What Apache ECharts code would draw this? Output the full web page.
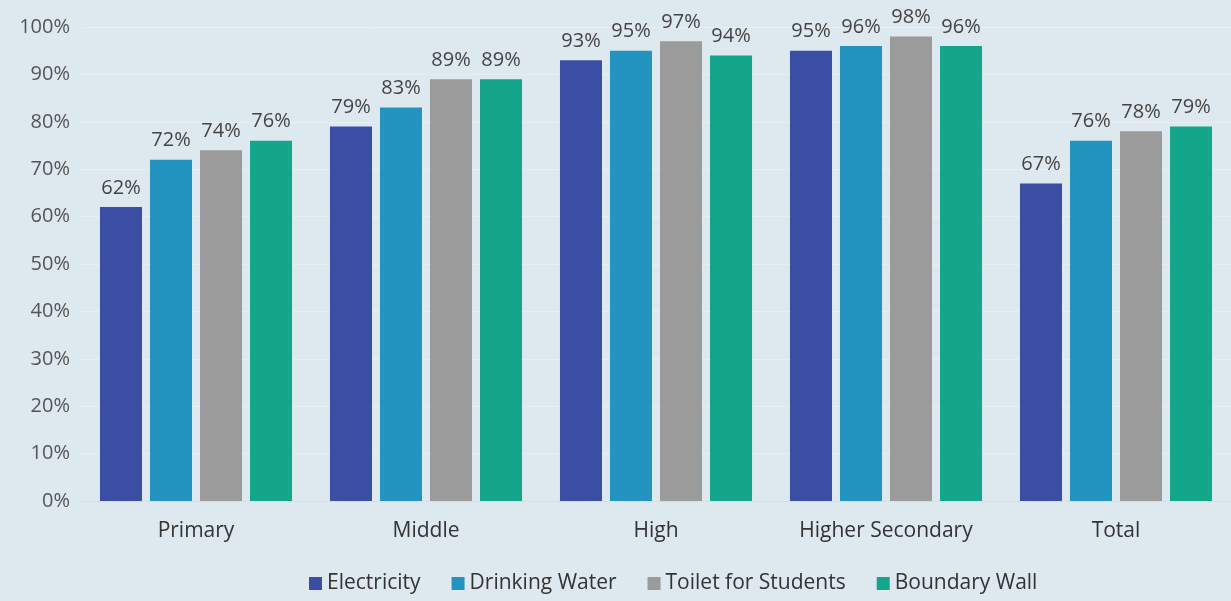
<!DOCTYPE html>
<html><head><meta charset="utf-8">
<script src="https://cdn.jsdelivr.net/npm/echarts@6/dist/echarts.min.js"></script>
<style>html,body{margin:0;padding:0;background:#dde9ef;}#c{width:1231px;height:601px;}</style>
</head><body><div id="c"></div>
<script>
const categories = ['Primary', 'Middle', 'High', 'Higher Secondary', 'Total'];
const electricity = [62, 79, 93, 95, 67];
const drinkingWater = [72, 83, 95, 96, 76];
const toilet = [74, 89, 97, 98, 78];
const boundaryWall = [76, 89, 94, 96, 79];
const seriesNames = ['Electricity', 'Drinking Water', 'Toilet for Students', 'Boundary Wall'];
const colors = ['#3a4fa3', '#2393bf', '#9b9b9b', '#14a68a'];
const yTicks = [0, 10, 20, 30, 40, 50, 60, 70, 80, 90, 100];

const chart = echarts.init(document.getElementById('c'));
const font = '"Open Sans", sans-serif';
const data = [electricity, drinkingWater, toilet, boundaryWall];
chart.setOption({
  backgroundColor: '#dde9ef',
  animation: false,
  color: colors,
  textStyle: { fontFamily: font },
  grid: { left: 81, right: 0, top: 27, bottom: 100, containLabel: false },
  legend: {
    left: 304, bottom: 2, itemWidth: 13, itemHeight: 13, itemGap: 31, icon: 'rect',
    textStyle: { fontSize: 21, color: '#333', fontFamily: font },
    data: seriesNames
  },
  xAxis: {
    type: 'category', data: categories,
    axisLine: { show: true, lineStyle: { color: '#d3dfe5' } },
    axisTick: { show: false },
    axisLabel: { fontSize: 21, color: '#333', margin: 20, fontFamily: font }
  },
  yAxis: {
    type: 'value', min: yTicks[0], max: yTicks[yTicks.length - 1], interval: 10,
    axisLine: { show: false }, axisTick: { show: false },
    splitLine: { lineStyle: { color: '#e7eff3', width: 1 } },
    axisLabel: { fontSize: 20, color: '#555', margin: 11, formatter: v => v + '%', fontFamily: font }
  },
  series: seriesNames.map((n, i) => ({
    name: n, type: 'bar', data: data[i],
    barGap: '19%', barCategoryGap: '16.5%',
    label: { show: true, position: 'top', distance: 9, fontSize: 20, color: '#444', formatter: '{c}%', fontFamily: font }
  }))
});
</script></body></html>
